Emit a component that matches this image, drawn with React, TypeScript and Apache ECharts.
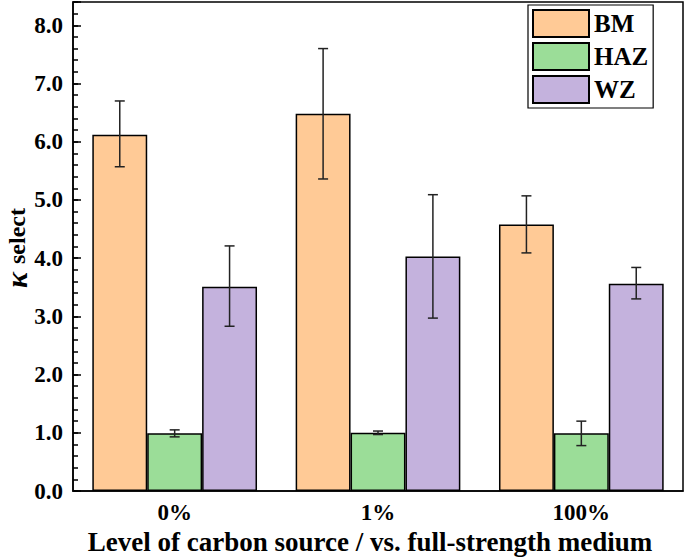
import React, { useEffect, useRef } from "react";
import * as echarts from "echarts";

const categories = ["0%", "1%", "100%"];
const seriesNames = ["BM", "HAZ", "WZ"];
const bmValues = [6.12, 6.48, 4.58];
const hazValues = [0.99, 1.0, 0.99];
const wzValues = [3.51, 4.03, 3.56];
const bmLow = [5.57, 5.36, 4.09];
const bmHigh = [6.7, 7.6, 5.07];
const hazLow = [0.93, 0.97, 0.78];
const hazHigh = [1.05, 1.03, 1.2];
const wzLow = [2.83, 2.97, 3.3];
const wzHigh = [4.21, 5.09, 3.84];
const yTicksMajor = [0, 1, 2, 3, 4, 5, 6, 7, 8];

const colors = ["#FFCA96", "#9BDD98", "#C4B2DD"];
const CAT_GAP = 0.19;
const FONT = "Liberation Serif";

export default function App() {
  const ref = useRef<HTMLDivElement>(null);
  useEffect(() => {
    document.body.style.margin = "0";
    const chart = echarts.init(ref.current!, null, { renderer: "svg" });
    const values = [bmValues, hazValues, wzValues];
    const lows = [bmLow, hazLow, wzLow];
    const highs = [bmHigh, hazHigh, wzHigh];

    const barSeries = seriesNames.map((name, i) => ({
      name,
      type: "bar",
      data: values[i],
      barGap: "0%",
      barCategoryGap: CAT_GAP * 100 + "%",
      itemStyle: { color: colors[i], borderColor: "#000", borderWidth: 1.5 },
      z: 2,
    }));

    const errSeries = seriesNames.map((name, si) => ({
      name: name + " error",
      type: "custom",
      z: 5,
      data: categories.map((_, ci) => [ci, lows[si][ci], highs[si][ci]]),
      encode: { x: 0, y: [1, 2] },
      renderItem: (params: any, api: any) => {
        const ci = api.value(0);
        const lo = api.coord([ci, api.value(1)]);
        const hi = api.coord([ci, api.value(2)]);
        const band = api.size([1, 0])[0];
        const bw = (band * (1 - CAT_GAP)) / 3;
        const x = lo[0] + (si - 1) * bw;
        const cap = 5;
        const st = { stroke: "#222", lineWidth: 1.5 };
        return {
          type: "group",
          children: [
            { type: "line", shape: { x1: x, y1: lo[1], x2: x, y2: hi[1] }, style: st },
            { type: "line", shape: { x1: x - cap, y1: lo[1], x2: x + cap, y2: lo[1] }, style: st },
            { type: "line", shape: { x1: x - cap, y1: hi[1], x2: x + cap, y2: hi[1] }, style: st },
          ],
        };
      },
    }));

    chart.setOption({
      animation: false,
      backgroundColor: "#fff",
      textStyle: { fontFamily: FONT },
      grid: {
        left: 73,
        right: 2,
        top: 2,
        bottom: 66,
        show: true,
        borderColor: "#000",
        borderWidth: 1.5,
        containLabel: false,
        outerBoundsMode: "none",
      },
      legend: {
        data: seriesNames,
        orient: "vertical",
        left: 528,
        top: 5,
        itemWidth: 56,
        itemHeight: 27,
        itemGap: 4,
        padding: [4, 5, 4, 4],
        borderColor: "#000",
        borderWidth: 1.2,
        icon: "rect",
        textStyle: { fontFamily: FONT, fontWeight: "bold", fontSize: 25, color: "#000" },
      },
      xAxis: {
        type: "category",
        data: categories,
        axisLine: { lineStyle: { color: "#000", width: 1.5 } },
        axisTick: { show: false },
        axisLabel: { fontFamily: FONT, fontWeight: "bold", fontSize: 23, color: "#000", margin: 10 },
        name: "Level of carbon source / vs. full-strength medium",
        nameLocation: "middle",
        nameGap: 36,
        nameTextStyle: {
          fontFamily: FONT,
          fontWeight: "bold",
          fontSize: 27,
          color: "#000",
          padding: [0, 16, 0, 0],
        },
      },
      yAxis: [
        {
          type: "value",
          min: 0,
          max: 8.4,
          interval: 1,
          axisLine: { show: true, lineStyle: { color: "#000", width: 1.5 } },
          axisTick: { show: true, inside: true, length: 8, lineStyle: { color: "#000", width: 1.5 } },
          splitLine: { show: false },
          axisLabel: {
            fontFamily: FONT,
            fontWeight: "bold",
            fontSize: 23,
            color: "#000",
            margin: 10,
            formatter: (v: number) => {
              const r = Math.round(v);
              return Math.abs(v - r) < 1e-6 && yTicksMajor.includes(r) ? r.toFixed(1) : "";
            },
          },
        },
        {
          type: "value",
          min: 0,
          max: 8.4,
          interval: 0.2,
          position: "left",
          axisLine: { show: false },
          axisTick: { show: true, inside: true, length: 5, lineStyle: { color: "#000", width: 1.5 } },
          splitLine: { show: false },
          axisLabel: { show: false },
        },
      ],
      graphic: [
        {
          type: "text",
          x: 16,
          y: 280,
          rotation: Math.PI / 2,
          style: {
            text: "κ",
            fontFamily: FONT,
            fontStyle: "italic",
            fontWeight: "bold",
            fontSize: 30,
            fill: "#000",
            textAlign: "center",
            textVerticalAlign: "middle",
          },
        },
        {
          type: "text",
          x: 17,
          y: 236,
          rotation: Math.PI / 2,
          style: {
            text: "select",
            fontFamily: FONT,
            fontWeight: "bold",
            fontSize: 24,
            fill: "#000",
            textAlign: "center",
            textVerticalAlign: "middle",
          },
        },
      ],
      series: [...barSeries, ...errSeries],
    });
    return () => chart.dispose();
  }, []);
  return <div ref={ref} style={{ width: 685, height: 557 }} />;
}
